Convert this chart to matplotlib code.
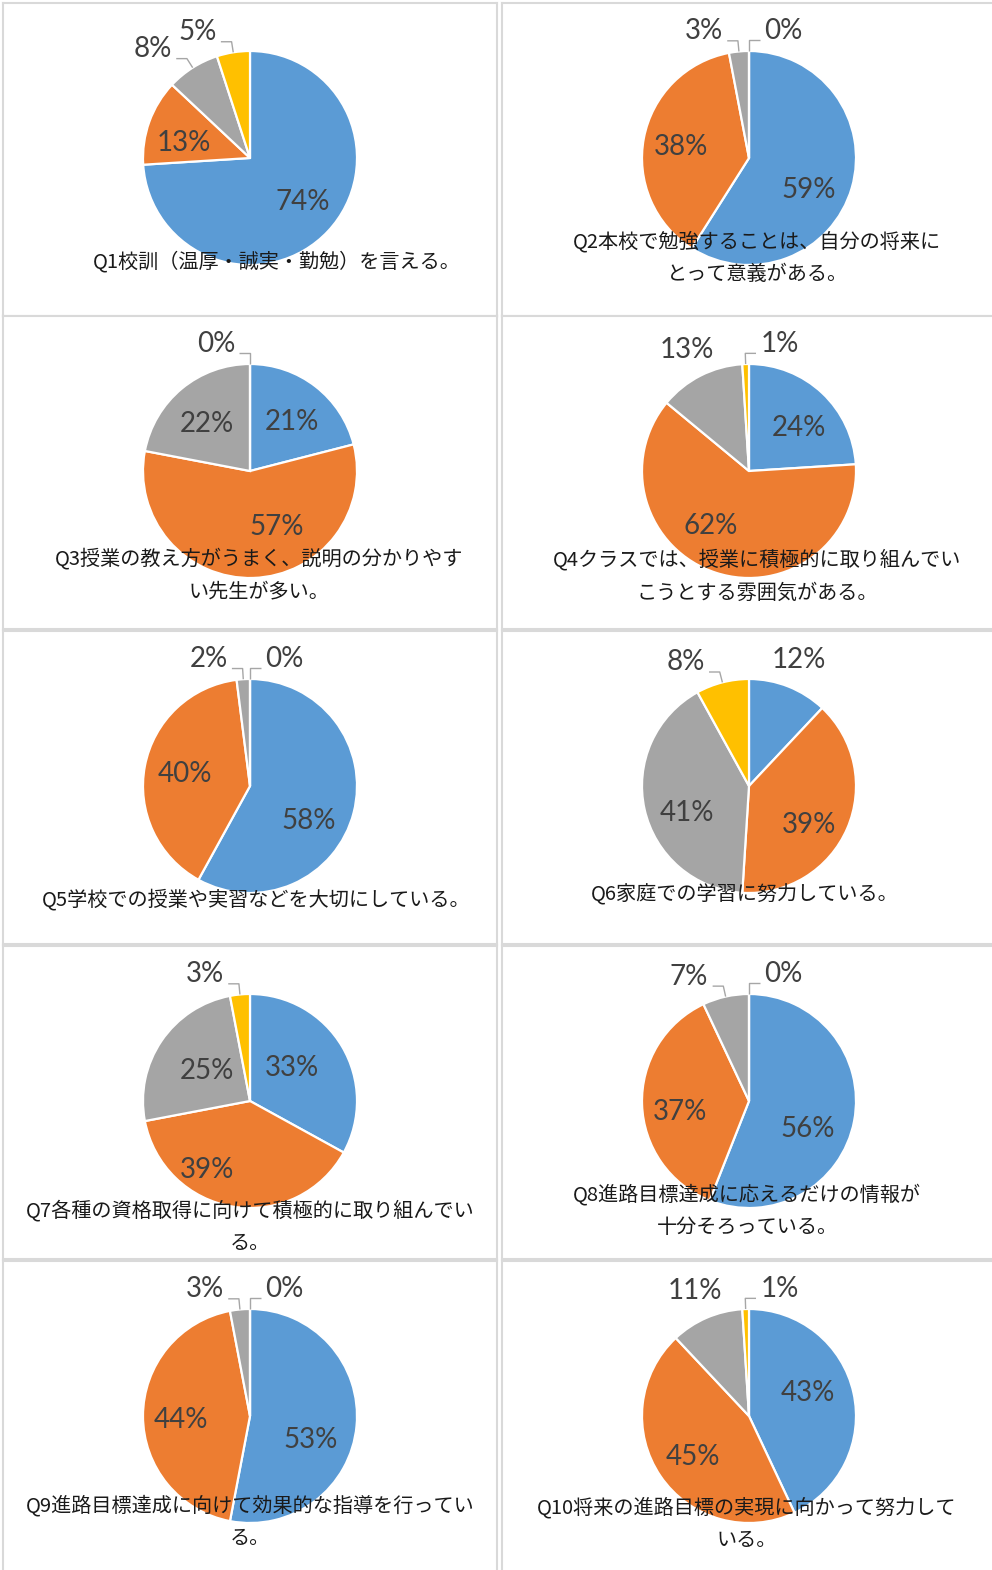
import numpy as np
import matplotlib
matplotlib.use('Agg')
import matplotlib.pyplot as plt

# アンケート結果（各設問の回答割合 %）
titles = [
    'Q1校訓（温厚・誠実・勤勉）を言える。',
    'Q2本校で勉強することは、自分の将来に\nとって意義がある。',
    'Q3授業の教え方がうまく、説明の分かりやす\nい先生が多い。',
    'Q4クラスでは、授業に積極的に取り組んでい\nこうとする雰囲気がある。',
    'Q5学校での授業や実習などを大切にしている。',
    'Q6家庭での学習に努力している。',
    'Q7各種の資格取得に向けて積極的に取り組んでい\nる。',
    'Q8進路目標達成に応えるだけの情報が\n十分そろっている。',
    'Q9進路目標達成に向けて効果的な指導を行ってい\nる。',
    'Q10将来の進路目標の実現に向かって努力して\nいる。',
]
q1 = [74, 13, 8, 5]
q2 = [59, 38, 3, 0]
q3 = [21, 57, 22, 0]
q4 = [24, 62, 13, 1]
q5 = [58, 40, 2, 0]
q6 = [12, 39, 41, 8]
q7 = [33, 39, 25, 3]
q8 = [56, 37, 7, 0]
q9 = [53, 44, 3, 0]
q10 = [43, 45, 11, 1]
answers = [q1, q2, q3, q4, q5, q6, q7, q8, q9, q10]

colors = ['#5B9BD5', '#ED7D31', '#A5A5A5', '#FFC000']

# ラベル位置の微調整（角度のずれ[deg]と中心からの距離）
label_turn = [[3, 7, 0, 0], [-12, 1.5, 0, 0], [-3, 24, 3, 0], [-6, -17, 0, 0],
              [-16, 0, 0, 0], [0, -10, 11, 0], [7, -23, -1, 0], [-15, 7, 0, 0],
              [-16, 3, 0, 0], [9, 2, 0, 0]]
label_dist = [[0.64, 0.63, 0, 0], [0.63, 0.64, 0, 0], [0.60, 0.58, 0.60, 0],
              [0.62, 0.625, 0, 0], [0.64, 0.62, 0, 0], [0, 0.67, 0.63, 0],
              [0.50, 0.76, 0.49, 0], [0.61, 0.65, 0, 0], [0.61, 0.65, 0, 0],
              [0.59, 0.65, 0, 0]]
# タイトル位置（円の中心からのずれ px）
title_off = [(27, 104), (8, 100), (9, 104), (8, 105), (6, 114),
             (-4, 109), (0, 126), (-2, 110), (0, 106), (-2, 108)]

W, H = 992, 1570
R = 107.0          # 円の半径 px
CX, CY = 247, 155  # セル左上からの円の中心 px
col_x = [3, 502]
col_w = [494, 492]
row_y = [3, 316, 631, 946, 1261]
row_h = 313

pct_font = ['Lato', 'DejaVu Sans']
jp_font = ['Noto Sans CJK JP', 'DejaVu Sans']
txt_color = '#404040'
lead_color = '#A6A6A6'
pct_size = 20

fig = plt.figure(figsize=(W / 100, H / 100), dpi=100)
fig.patch.set_facecolor('white')

for k, vals in enumerate(answers):
    x0 = col_x[k % 2]
    y0 = row_y[k // 2]
    w = col_w[k % 2]
    ax = fig.add_axes([x0 / W, 1 - (y0 + row_h) / H, w / W, row_h / H])

    wedges, _ = ax.pie(vals, colors=colors, startangle=90, counterclock=False,
                       wedgeprops=dict(edgecolor='white', linewidth=1.6))
    ax.set_aspect('auto')
    ax.set_xlim(-CX / R, (w - CX) / R)
    ax.set_ylim(-(row_h - CY) / R, CY / R)
    ax.set_frame_on(True)
    ax.set_xticks([])
    ax.set_yticks([])
    for sp in ax.spines.values():
        sp.set_color('#D9D9D9')
        sp.set_linewidth(1.5)

    mids = [((wd.theta1 + wd.theta2) / 2) % 360 for wd in wedges]
    outside = [v < 10 or (v <= 13 and abs(m - 90) < 30) for v, m in zip(vals, mids)]
    n_out = sum(outside)

    for i, (v, m) in enumerate(zip(vals, mids)):
        lab = f'{v}%'
        if not outside[i]:
            a = np.radians(m + label_turn[k][i])
            d = label_dist[k][i]
            ax.text(d * np.cos(a), d * np.sin(a), lab, ha='center', va='center',
                    fontsize=pct_size, color=txt_color, family=pct_font)
        elif v >= 10:
            # 上部の余白に収まるラベルは引き出し線なし
            a = np.radians(m)
            ax.text(1.27 * np.cos(a), 1.27 * np.sin(a), lab, ha='center', va='center',
                    fontsize=pct_size, color=txt_color, family=pct_font)
        else:
            a = np.radians(m)
            ex, ey = np.cos(a), np.sin(a)
            bx, by = 1.1 * ex, 1.1 * ey
            if v <= 1 and i == len(vals) - 1:
                right = n_out > 1
            else:
                right = ex >= 0
            sgn = 1 if right else -1
            hx = bx + sgn * 0.1
            ax.plot([ex, bx, hx], [ey, by, by], color=lead_color, lw=1.0,
                    solid_capstyle='butt', zorder=3)
            ax.text(hx + sgn * 0.04, by + 0.09, lab, ha='left' if right else 'right',
                    va='center', fontsize=pct_size, color=txt_color, family=pct_font)

    dx, dy = title_off[k]
    ax.text(dx / R, -dy / R, titles[k], ha='center', va='center', ma='center',
            fontsize=14.5, color='#1a1a1a', family=jp_font, linespacing=1.75,
            zorder=5)

fig.savefig('out.png', dpi=100, facecolor='white')
